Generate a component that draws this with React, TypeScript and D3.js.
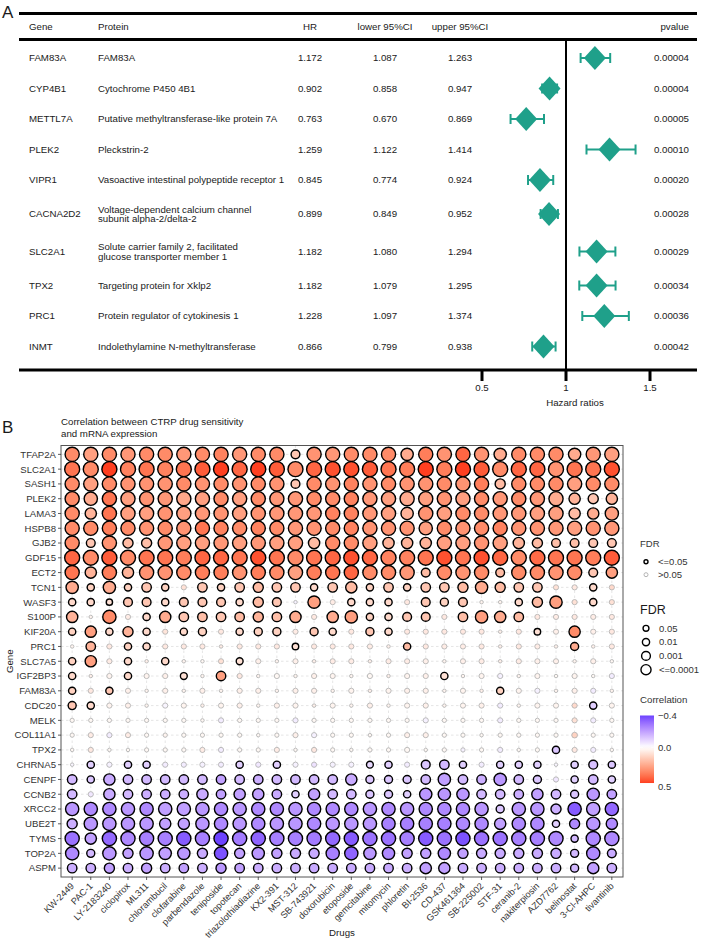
import React from 'react';
import * as d3 from 'd3';

const W = 703;
const H = 942;
const FONT = "'Liberation Sans', Arial, Helvetica, sans-serif";

// ---------- panel A : Cox table ----------
const coxGenes = ['FAM83A', 'CYP4B1', 'METTL7A', 'PLEK2', 'VIPR1', 'CACNA2D2', 'SLC2A1', 'TPX2', 'PRC1', 'INMT'];
const coxProteins = [
  'FAM83A',
  'Cytochrome P450 4B1',
  'Putative methyltransferase-like protein 7A',
  'Pleckstrin-2',
  'Vasoactive intestinal polypeptide receptor 1',
  'Voltage-dependent calcium channel\nsubunit alpha-2/delta-2',
  'Solute carrier family 2, facilitated\nglucose transporter member 1',
  'Targeting protein for Xklp2',
  'Protein regulator of cytokinesis 1',
  'Indolethylamine N-methyltransferase',
];
const coxHR = [1.172, 0.902, 0.763, 1.259, 0.845, 0.899, 1.182, 1.182, 1.228, 0.866];
const coxLower = [1.087, 0.858, 0.67, 1.122, 0.774, 0.849, 1.08, 1.079, 1.097, 0.799];
const coxUpper = [1.263, 0.947, 0.869, 1.414, 0.924, 0.952, 1.294, 1.295, 1.374, 0.938];
const coxP = ['0.00004', '0.00004', '0.00005', '0.00010', '0.00020', '0.00028', '0.00029', '0.00034', '0.00036', '0.00042'];
const hrTicks = [0.5, 1, 1.5];

// ---------- panel B : drug correlation ----------
const drugs = ['KW-2449', 'PAC-1', 'LY-2183240', 'ciclopirox', 'ML311', 'chlorambucil', 'clofarabine', 'parbendazole',
  'teniposide', 'topotecan', 'triazolothiadiazine', 'KX2-391', 'MST-312', 'SB-743921', 'doxorubicin', 'etoposide',
  'gemcitabine', 'mitomycin', 'phloretin', 'BI-2536', 'CD-437', 'GSK461364', 'SB-225002', 'STF-31', 'ceranib-2',
  'nakiterpiosin', 'AZD7762', 'belinostat', '3-Cl-AHPC', 'tivantinib'];
const drugGenes = ['TFAP2A', 'SLC2A1', 'SASH1', 'PLEK2', 'LAMA3', 'HSPB8', 'GJB2', 'GDF15', 'ECT2', 'TCN1', 'WASF3',
  'S100P', 'KIF20A', 'PRC1', 'SLC7A5', 'IGF2BP3', 'FAM83A', 'CDC20', 'MELK', 'COL11A1', 'TPX2', 'CHRNA5', 'CENPF',
  'CCNB2', 'XRCC2', 'UBE2T', 'TYMS', 'TOP2A', 'ASPM'];

// correlation x100, one row per gene, columns follow `drugs`
const corrByGene = [
  [30, 25, 30, 27, 30, 30, 27, 30, 32, 27, 30, 30, 15, 28, 27, 30, 30, 30, 22, 33, 28, 38, 28, 22, 30, 30, 30, 22, 27, 25],
  [35, 30, 45, 32, 35, 32, 35, 40, 45, 38, 45, 40, 30, 38, 42, 42, 40, 35, 33, 45, 33, 45, 40, 30, 38, 38, 28, 35, 35, 42],
  [30, 25, 30, 28, 28, 28, 30, 28, 30, 28, 30, 28, 15, 30, 28, 32, 28, 30, 28, 28, 30, 28, 33, 18, 30, 30, 30, 25, 30, 30],
  [30, 22, 35, 25, 28, 27, 23, 25, 30, 25, 30, 27, 27, 30, 30, 32, 27, 25, 22, 25, 28, 25, 30, 27, 30, 27, 22, 20, 15, 20],
  [30, 20, 35, 25, 25, 28, 25, 27, 28, 25, 28, 27, 27, 27, 32, 32, 27, 25, 20, 28, 25, 30, 30, 27, 27, 25, 25, 18, 22, 25],
  [30, 30, 33, 30, 28, 30, 28, 35, 32, 30, 32, 30, 27, 28, 30, 32, 28, 28, 28, 25, 30, 28, 30, 32, 28, 28, 27, 25, 28, 27],
  [30, 15, 28, 18, 17, 27, 25, 25, 27, 25, 27, 25, 25, 18, 30, 30, 25, 20, 20, 20, 25, 25, 28, 25, 20, 18, 17, 17, 15, 15],
  [38, 30, 40, 30, 35, 35, 33, 38, 38, 35, 42, 35, 30, 35, 38, 42, 38, 32, 32, 35, 42, 35, 42, 38, 30, 37, 35, 35, 33, 40],
  [35, 20, 33, 20, 28, 28, 30, 33, 33, 28, 33, 30, 25, 33, 35, 38, 30, 30, 27, 18, 30, 28, 30, 18, 30, 30, 28, 30, 15, 25],
  [22, 12, 22, 12, 15, 12, 8, 15, 12, 15, 18, 15, 15, 10, 15, 18, 12, 15, 12, 15, 15, 18, 22, 18, 15, 15, 8, 6, 10, 10],
  [10, 10, 8, 15, 15, 10, 15, 15, 15, 10, 18, 15, -3, 25, 5, 10, 10, 10, 6, 15, 12, 15, 3, 3, 10, 18, 25, 8, 10, 8],
  [20, 3, 30, 5, 10, 22, 15, 17, 15, 18, 20, 17, 22, 6, 22, 25, 12, 10, 15, 15, 6, 17, 25, 22, 18, 6, 5, 6, 5, 6],
  [12, 25, 10, 20, 10, 7, 10, 12, 6, 10, 12, 12, 5, 15, 10, 6, 15, 10, 6, 6, 6, 6, 6, 4, 6, 8, 4, 30, 4, 6],
  [3, 20, 6, 12, 10, 6, 6, 6, 5, 6, 6, 6, 8, 6, 6, 6, 5, 4, 18, 6, 5, 5, 6, 4, 6, 5, 4, 22, 4, 6],
  [12, 25, 5, 10, 4, 10, 3, 2, 8, 8, 4, 3, 4, 4, 5, 5, 4, 5, 5, 4, 3, 4, 5, 4, 5, 4, 4, 3, 4, 2],
  [10, 4, 3, 10, 3, 4, 8, 3, 25, 6, 3, 2, 3, 4, 3, 3, 2, 4, 3, 4, 8, 3, 3, -3, 3, 3, 2, 3, 2, -4],
  [12, 6, 15, 4, 3, 4, 3, 4, 3, 4, 4, 3, 4, 4, 3, 3, 4, 3, 4, 4, 3, 3, 4, 12, 3, -3, 3, 4, -4, 3],
  [15, 10, 3, 4, 3, -2, 3, 4, 3, 4, 3, 4, 3, 4, 3, 3, 4, 3, 3, 4, 3, 3, 4, -4, 3, 3, 3, 10, -10, 3],
  [2, 2, 2, 2, 2, 2, 2, 2, -4, 2, 2, 2, -4, 2, 2, 2, 2, 2, 2, -3, 2, 2, 2, -4, 2, 2, 2, 8, -4, 2],
  [2, 5, -4, 5, 2, 3, 2, 2, 2, 2, 2, 2, 4, -3, 2, 2, 2, 2, 4, 4, 2, 2, 2, 2, 2, 2, 2, 12, 2, 2],
  [2, 6, 2, 2, 2, 2, 2, 5, -4, 2, 2, 5, 2, 6, 2, 2, 2, 2, 2, 2, 2, -3, 2, -4, 2, 2, -12, 6, -4, 2],
  [-2, -10, -3, -10, -10, -4, -4, -3, -4, -10, -5, -10, -3, -6, -3, -3, -8, -10, -4, -12, -15, -10, -4, -10, -10, -10, -2, -10, -13, -12],
  [-15, -12, -18, -15, -15, -15, -15, -15, -20, -15, -17, -15, -15, -15, -15, -18, -12, -12, -12, -15, -20, -15, -17, -22, -15, -12, -5, -10, -15, -10],
  [-15, -5, -18, -15, -17, -17, -17, -18, -20, -20, -20, -18, -10, -20, -15, -15, -12, -12, -10, -22, -22, -22, -15, -15, -17, -20, -15, -12, -22, -20],
  [-22, -25, -25, -22, -25, -20, -20, -22, -25, -22, -25, -25, -22, -25, -25, -25, -22, -25, -22, -25, -25, -25, -22, -12, -22, -22, -17, -35, -20, -32],
  [-17, -22, -22, -22, -22, -20, -20, -22, -25, -22, -25, -22, -22, -25, -22, -22, -22, -27, -27, -27, -27, -25, -25, -20, -25, -25, -10, -25, -22, -25],
  [-30, -20, -32, -25, -27, -27, -35, -27, -40, -28, -33, -27, -27, -28, -32, -35, -30, -30, -27, -35, -30, -37, -30, -30, -27, -27, -25, -15, -25, -25],
  [-25, -15, -22, -20, -22, -20, -22, -18, -37, -20, -22, -20, -18, -18, -27, -33, -22, -25, -20, -20, -25, -20, -18, -18, -18, -18, -18, -15, -25, -18],
  [-17, -17, -20, -17, -20, -17, -20, -17, -22, -20, -17, -17, -17, -18, -18, -18, -18, -18, -17, -20, -20, -18, -17, -17, -17, -17, -17, -15, -20, -17],
];

// -log10(FDR), same layout; below 1.3 means FDR > 0.05
const fdrByGene = [
  [8, 8, 8, 8, 8, 8, 8, 8, 8, 8, 8, 8, 3, 8, 8, 8, 8, 8, 6, 8, 8, 8, 8, 6, 8, 8, 8, 6, 8, 8],
  [9, 9, 9, 9, 9, 9, 9, 9, 9, 9, 9, 9, 9, 9, 9, 9, 9, 9, 9, 9, 9, 9, 9, 9, 9, 9, 9, 9, 9, 9],
  [8, 8, 8, 8, 8, 8, 8, 8, 8, 8, 8, 8, 3, 8, 8, 8, 8, 8, 8, 8, 8, 8, 8, 4, 8, 8, 8, 8, 8, 8],
  [8, 7, 8, 8, 8, 8, 8, 8, 8, 8, 8, 8, 8, 8, 8, 8, 8, 8, 8, 8, 8, 8, 8, 8, 8, 8, 8, 5, 4, 5],
  [8, 5, 8, 8, 8, 8, 8, 8, 8, 8, 8, 8, 8, 8, 8, 8, 8, 8, 6, 8, 8, 8, 8, 8, 8, 8, 8, 5, 5, 7],
  [8, 8, 8, 8, 8, 8, 8, 8, 8, 8, 8, 8, 8, 8, 8, 8, 8, 8, 8, 7, 8, 8, 8, 8, 8, 8, 8, 8, 8, 8],
  [8, 3, 8, 4, 4, 8, 8, 8, 8, 8, 8, 8, 8, 5, 8, 8, 8, 5, 5, 5, 8, 8, 8, 8, 5, 4, 3, 3, 3, 3],
  [9, 9, 9, 9, 9, 9, 9, 9, 9, 9, 9, 9, 9, 9, 9, 9, 9, 9, 9, 9, 9, 9, 9, 9, 9, 9, 9, 9, 9, 9],
  [8, 5, 8, 5, 8, 8, 8, 8, 8, 8, 8, 8, 8, 8, 8, 8, 8, 8, 8, 3, 8, 8, 8, 3, 8, 8, 8, 8, 3, 5],
  [6, 2, 6, 2, 3.5, 2, 0.8, 3.5, 2, 3.5, 4, 3.5, 3.5, 2, 3.5, 5, 2, 3.5, 2, 3.5, 3.5, 4, 6, 4, 3.5, 3.5, 0.8, 0.8, 2, 0.8],
  [2, 2, 1.5, 3, 3, 2, 3, 3, 3, 2, 4, 3, 0.3, 6, 0.8, 2, 2, 2, 0.8, 3, 2.5, 3, 0.3, 0.3, 2, 4, 6, 0.8, 2, 0.8],
  [5, 0.3, 7, 0.8, 2, 5, 3.5, 3.5, 3.5, 3.5, 4, 3.5, 5, 0.8, 5, 6, 2, 2, 3, 3, 0.8, 3.5, 6, 5, 3.5, 0.8, 0.8, 0.8, 0.8, 0.8],
  [2, 5, 2, 4, 2, 0.8, 2, 2.5, 0.8, 2, 2.5, 2.5, 0.8, 2.5, 2, 0.8, 2.5, 2, 0.8, 0.8, 0.8, 0.8, 0.8, 0.3, 0.8, 1.6, 0.8, 5, 0.8, 0.8],
  [0.3, 3.5, 0.8, 2, 2, 0.8, 0.8, 0.8, 0.3, 0.8, 0.8, 0.8, 1.6, 0.8, 0.8, 0.8, 0.8, 0.3, 2, 0.8, 0.8, 0.8, 0.8, 0.3, 0.8, 0.8, 0.3, 2.5, 0.3, 0.8],
  [2, 5, 0.8, 2, 0.3, 2, 0.3, 0.3, 0.8, 1.8, 0.8, 0.3, 0.8, 0.3, 0.8, 0.8, 0.3, 0.8, 0.8, 0.8, 0.3, 0.8, 0.8, 0.3, 0.8, 0.8, 0.8, 0.3, 0.8, 0.3],
  [2, 0.3, 0.8, 2, 0.8, 0.8, 1.8, 0.3, 3.5, 0.8, 0.3, 0.8, 0.3, 0.8, 0.8, 0.3, 0.8, 0.3, 0.8, 0.8, 2, 0.3, 0.8, 0.8, 0.3, 0.8, 0.3, 0.8, 0.3, 0.8],
  [2, 0.8, 2, 0.8, 0.3, 0.8, 0.3, 0.8, 0.3, 0.8, 0.8, 0.3, 0.8, 0.8, 0.3, 0.8, 0.3, 0.8, 0.8, 0.8, 0.3, 0.8, 0.3, 2, 0.8, 0.8, 0.3, 0.8, 0.8, 0.3],
  [2.5, 2, 0.8, 0.8, 0.3, 0.8, 0.8, 0.3, 0.8, 0.8, 0.3, 0.8, 0.8, 0.3, 0.8, 0.3, 0.8, 0.3, 0.8, 0.8, 0.3, 0.8, 0.8, 0.8, 0.3, 0.8, 0.8, 0.8, 2, 0.8],
  [0.5, 0.5, 0.5, 0.5, 0.5, 0.5, 0.5, 0.3, 0.8, 0.5, 0.5, 0.5, 0.8, 0.5, 0.5, 0.5, 0.5, 0.5, 0.5, 0.8, 0.5, 0.5, 0.5, 0.8, 0.5, 0.5, 0.5, 0.8, 0.8, 0.5],
  [0.5, 0.8, 0.8, 0.8, 0.5, 0.5, 0.5, 0.5, 0.5, 0.5, 0.3, 0.5, 0.8, 0.8, 0.5, 0.5, 0.3, 0.5, 0.8, 0.8, 0.5, 0.5, 0.3, 0.5, 0.5, 0.5, 0.5, 1, 0.5, 0.5],
  [0.3, 0.8, 0.3, 0.3, 0.5, 0.5, 0.5, 0.8, 0.8, 0.5, 0.5, 0.8, 0.3, 0.8, 0.5, 0.3, 0.5, 0.5, 0.8, 0.3, 0.5, 0.5, 0.5, 0.8, 0.3, 0.5, 2, 0.8, 0.8, 0.3],
  [0.3, 2, 0.8, 2, 2, 0.8, 0.8, 0.8, 0.8, 2, 0.8, 2, 0.8, 0.8, 0.8, 0.8, 1.8, 2, 0.8, 3, 3.5, 2, 0.8, 2, 2, 2, 0.3, 2, 3, 2],
  [3.5, 2, 5, 3.5, 3.5, 3.5, 3.5, 3.5, 3.5, 3.5, 3.5, 3.5, 3.5, 3.5, 3.5, 5, 2.5, 2.5, 2.5, 3.5, 6, 3.5, 3.5, 6, 3.5, 2.5, 0.8, 2, 3.5, 2],
  [3.5, 0.8, 5, 3.5, 3.5, 3.5, 3.5, 5, 3.5, 5, 5, 3.5, 2, 5, 3.5, 3.5, 2.5, 2.5, 2, 6, 6, 6, 3.5, 3.5, 3.5, 5, 3.5, 2.5, 6, 3.5],
  [7, 7, 7, 7, 7, 7, 7, 7, 7, 7, 7, 7, 7, 7, 7, 7, 7, 7, 7, 7, 7, 7, 7, 2.5, 7, 7, 4, 7, 7, 7],
  [4, 7, 7, 7, 7, 5, 5, 7, 7, 7, 7, 7, 7, 7, 7, 7, 7, 7, 7, 7, 7, 7, 7, 5, 7, 7, 2, 4, 7, 5],
  [8, 5, 8, 8, 8, 8, 8, 8, 8, 8, 8, 8, 8, 8, 8, 8, 8, 8, 8, 8, 8, 8, 8, 8, 8, 8, 8, 2, 8, 8],
  [7, 2.5, 7, 4, 7, 6, 6, 4, 7, 4, 6, 4, 4, 4, 7, 7, 6, 6, 4, 4, 6, 4, 4, 4, 4, 4, 4, 2.5, 7, 3],
  [3.5, 3.5, 4, 3.5, 4, 3.5, 3.5, 3.5, 4, 3.5, 3.5, 3.5, 3.5, 3.5, 3.5, 3.5, 3.5, 3.5, 3.5, 5, 5, 3.5, 3.5, 3.5, 3.5, 3.5, 3.5, 2.5, 5, 3.5],
];

const fdrLegendLevels = [0.05, 0.01, 0.001, 0.0001];
const fdrLegendLabels = ['0.05', '0.01', '0.001', '<=0.0001'];
const corrTicks = [-0.4, 0, 0.5];

const TEAL = '#1fa08a';
const TXT = '#1a1a1a';

const negPal = d3.interpolateLab('#ffffff', '#0000ff');
const posPal = d3.interpolateLab('#ffffff', '#ff0000');
const corrColor = (v: number) => (v < 0 ? negPal(Math.min(1, -v / 0.5)) : posPal(Math.min(1, v / 0.5)));

export default function App() {
  // ---- panel A layout ----
  const hr = d3.scaleLinear().domain([0.5, 1.5]).range([482, 650]);
  const rowH = coxProteins.map((p) => 30.5 + 7 * (p.split('\n').length - 1));
  const rowY: number[] = [];
  let acc = 42.75;
  rowH.forEach((h) => {
    rowY.push(acc + h / 2);
    acc += h;
  });
  const ruleX0 = 19;
  const ruleX1 = 697;
  const colGene = 29;
  const colProt = 98;
  const colHR = 310;
  const colLo = 385;
  const colUp = 460;
  const colP = 689;
  const axisY = 370;
  const tfs = 9.7;

  // ---- panel B layout ----
  const px0 = 61, px1 = 623, py0 = 445.5, py1 = 877;
  const x = d3.scalePoint<string>().domain(drugs).range([px0, px1]).padding(0.6);
  const y = d3.scalePoint<string>().domain(drugGenes).range([py0, py1]).padding(0.6);
  const size = d3.scaleSqrt().domain([0, 9]).range([1.7, 16.4]).clamp(true);

  const allCorr = corrByGene.flat().map((v) => v / 100);
  const [cMin, cMax] = d3.extent(allCorr) as [number, number];
  const cbY = d3.scaleLinear().domain([-0.4, 0.5]).range([715.5, 787]);
  const gradStops = d3.range(0, 21).map((i) => cMin + ((cMax - cMin) * i) / 20);

  const cells: JSX.Element[] = [];
  drugGenes.forEach((g, gi) => {
    drugs.forEach((d, di) => {
      const c = corrByGene[gi][di] / 100;
      const f = fdrByGene[gi][di];
      const sig = f >= 1.3;
      const sw = sig ? 1.4 : 0.9;
      const r = size(f) / 2 - sw / 2;
      cells.push(
        <circle
          key={g + d}
          cx={x(d)}
          cy={y(g)}
          r={r}
          fill={corrColor(c)}
          stroke={sig ? '#000' : '#b4b4b4'}
          strokeWidth={sw}
        />
      );
    });
  });

  return (
    <svg width={W} height={H} style={{ position: 'absolute', left: 0, top: 0, background: '#fff' }} fontFamily={FONT}>
      <defs>
        <linearGradient id="corrGrad" x1="0" y1="0" x2="0" y2="1">
          {gradStops.map((v, i) => (
            <stop key={i} offset={`${(i / 20) * 100}%`} stopColor={corrColor(v)} />
          ))}
        </linearGradient>
      </defs>
      <rect width={W} height={H} fill="#fff" />

      {/* ================= Panel A ================= */}
      <text x={2} y={17.5} fontSize={17} fill={TXT}>A</text>
      <line x1={ruleX0} x2={ruleX1} y1={13.5} y2={13.5} stroke="#000" strokeWidth={3} />
      <line x1={ruleX0} x2={ruleX1} y1={39.5} y2={39.5} stroke="#000" strokeWidth={3} />
      <line x1={ruleX0} x2={ruleX1} y1={axisY} y2={axisY} stroke="#000" strokeWidth={3} />
      <g fontSize={tfs} fill={TXT}>
        <text x={colGene} y={26.5} dy="0.35em">Gene</text>
        <text x={colProt} y={26.5} dy="0.35em">Protein</text>
        <text x={colHR} y={26.5} dy="0.35em" textAnchor="middle">HR</text>
        <text x={colLo} y={26.5} dy="0.35em" textAnchor="middle">lower 95%CI</text>
        <text x={colUp} y={26.5} dy="0.35em" textAnchor="middle">upper 95%CI</text>
        <text x={colP} y={26.5} dy="0.35em" textAnchor="end">pvalue</text>
      </g>
      <line x1={hr(1)} x2={hr(1)} y1={39.5} y2={axisY} stroke="#000" strokeWidth={2} />
      {coxGenes.map((g, i) => {
        const cy = rowY[i];
        const lines = coxProteins[i].split('\n');
        const cx = hr(coxHR[i]);
        const xl = hr(coxLower[i]);
        const xu = hr(coxUpper[i]);
        return (
          <g key={g}>
            <g fontSize={tfs} fill={TXT}>
              <text x={colGene} y={cy} dy="0.35em">{g}</text>
              {lines.map((l, li) => (
                <text key={li} x={colProt} y={cy + (li - (lines.length - 1) / 2) * 9.4} dy="0.35em">{l}</text>
              ))}
              <text x={colHR} y={cy} dy="0.35em" textAnchor="middle">{coxHR[i].toFixed(3)}</text>
              <text x={colLo} y={cy} dy="0.35em" textAnchor="middle">{coxLower[i].toFixed(3)}</text>
              <text x={colUp} y={cy} dy="0.35em" textAnchor="middle">{coxUpper[i].toFixed(3)}</text>
              <text x={colP} y={cy} dy="0.35em" textAnchor="end">{coxP[i]}</text>
            </g>
            <line x1={xl} x2={xu} y1={cy} y2={cy} stroke={TEAL} strokeWidth={2} />
            <line x1={xl} x2={xl} y1={cy - 5} y2={cy + 5} stroke={TEAL} strokeWidth={2} />
            <line x1={xu} x2={xu} y1={cy - 5} y2={cy + 5} stroke={TEAL} strokeWidth={2} />
            <path d={`M${cx - 11},${cy}L${cx},${cy - 12}L${cx + 11},${cy}L${cx},${cy + 12}Z`} fill={TEAL} />
          </g>
        );
      })}
      {hrTicks.map((t) => (
        <g key={t}>
          <line x1={hr(t)} x2={hr(t)} y1={axisY} y2={axisY + 11} stroke="#000" strokeWidth={3} />
          <text x={hr(t)} y={axisY + 18} dy="0.35em" textAnchor="middle" fontSize={tfs} fill={TXT}>{String(t)}</text>
        </g>
      ))}
      <text x={575} y={403} dy="0.35em" textAnchor="middle" fontSize={tfs} fill={TXT}>Hazard ratios</text>

      {/* ================= Panel B ================= */}
      <text x={2} y={433} fontSize={17} fill={TXT}>B</text>
      <text x={61} y={421.5} dy="0.35em" fontSize={9.7} fill={TXT}>Correlation between CTRP drug sensitivity</text>
      <text x={61} y={434} dy="0.35em" fontSize={9.7} fill={TXT}>and mRNA expression</text>

      <rect x={px0} y={py0} width={px1 - px0} height={py1 - py0} fill="#fff" />
      <g stroke="#d4d4d4" strokeWidth={0.6} strokeDasharray="2.5,2.5">
        {drugs.map((d) => (
          <line key={d} x1={x(d)} x2={x(d)} y1={py0} y2={py1} />
        ))}
        {drugGenes.map((g) => (
          <line key={g} x1={px0} x2={px1} y1={y(g)} y2={y(g)} />
        ))}
      </g>
      {cells}
      <rect x={px0} y={py0} width={px1 - px0} height={py1 - py0} fill="none" stroke="#555" strokeWidth={1} />

      {/* y axis */}
      {drugGenes.map((g) => (
        <g key={g}>
          <line x1={px0 - 3} x2={px0} y1={y(g)} y2={y(g)} stroke="#333" strokeWidth={0.8} />
          <text x={px0 - 5} y={y(g)} dy="0.35em" textAnchor="end" fontSize={9.6} fill="#333">{g}</text>
        </g>
      ))}
      {/* x axis */}
      {drugs.map((d) => (
        <g key={d}>
          <line x1={x(d)} x2={x(d)} y1={py1} y2={py1 + 3} stroke="#333" strokeWidth={0.8} />
          <text
            transform={`translate(${(x(d) as number) - 2},${py1 + 5}) rotate(-45)`}
            dy="0.7em"
            textAnchor="end"
            fontSize={9.2}
            fill="#333"
          >
            {d}
          </text>
        </g>
      ))}
      <text transform={`translate(10,${(py0 + py1) / 2}) rotate(-90)`} dy="0.35em" textAnchor="middle" fontSize={9.7} fill={TXT}>Gene</text>
      <text x={(px0 + px1) / 2} y={933} dy="0.35em" textAnchor="middle" fontSize={9.7} fill={TXT}>Drugs</text>

      {/* legends */}
      <text x={640} y={544} dy="0.35em" fontSize={9.5} fill="#333">FDR</text>
      <circle cx={646} cy={561.7} r={2} fill="#fff" stroke="#000" strokeWidth={1.4} />
      <text x={658} y={561.7} dy="0.35em" fontSize={9.5} fill="#333">{'<=0.05'}</text>
      <circle cx={646} cy={574.7} r={2} fill="#fff" stroke="#b4b4b4" strokeWidth={1} />
      <text x={658} y={574.7} dy="0.35em" fontSize={9.5} fill="#333">{'>0.05'}</text>

      <text x={640} y={610} dy="0.35em" fontSize={12.5} fill={TXT}>FDR</text>
      {fdrLegendLevels.map((lv, i) => {
        const cy = 628.3 + i * 13.8;
        const r = size(-Math.log10(lv)) / 2 - 0.7;
        return (
          <g key={lv}>
            <circle cx={646} cy={cy} r={r} fill="none" stroke="#000" strokeWidth={1.4} />
            <text x={659} y={cy} dy="0.35em" fontSize={9.5} fill="#333">{fdrLegendLabels[i]}</text>
          </g>
        );
      })}

      <text x={640} y={700} dy="0.35em" fontSize={9.7} fill="#333">Correlation</text>
      <rect x={640} y={cbY(cMin)} width={14} height={cbY(cMax) - cbY(cMin)} fill="url(#corrGrad)" />
      {corrTicks.map((t) => (
        <g key={t}>
          {t > cMin && t < cMax && (
            <>
              <line x1={640} x2={643} y1={cbY(t)} y2={cbY(t)} stroke="#fff" strokeWidth={0.6} />
              <line x1={651} x2={654} y1={cbY(t)} y2={cbY(t)} stroke="#fff" strokeWidth={0.6} />
            </>
          )}
          <text x={658} y={cbY(t)} dy="0.35em" fontSize={9.5} fill="#333">
            {t < 0 ? '\u2212' + Math.abs(t).toFixed(1) : t.toFixed(1)}
          </text>
        </g>
      ))}
    </svg>
  );
}
